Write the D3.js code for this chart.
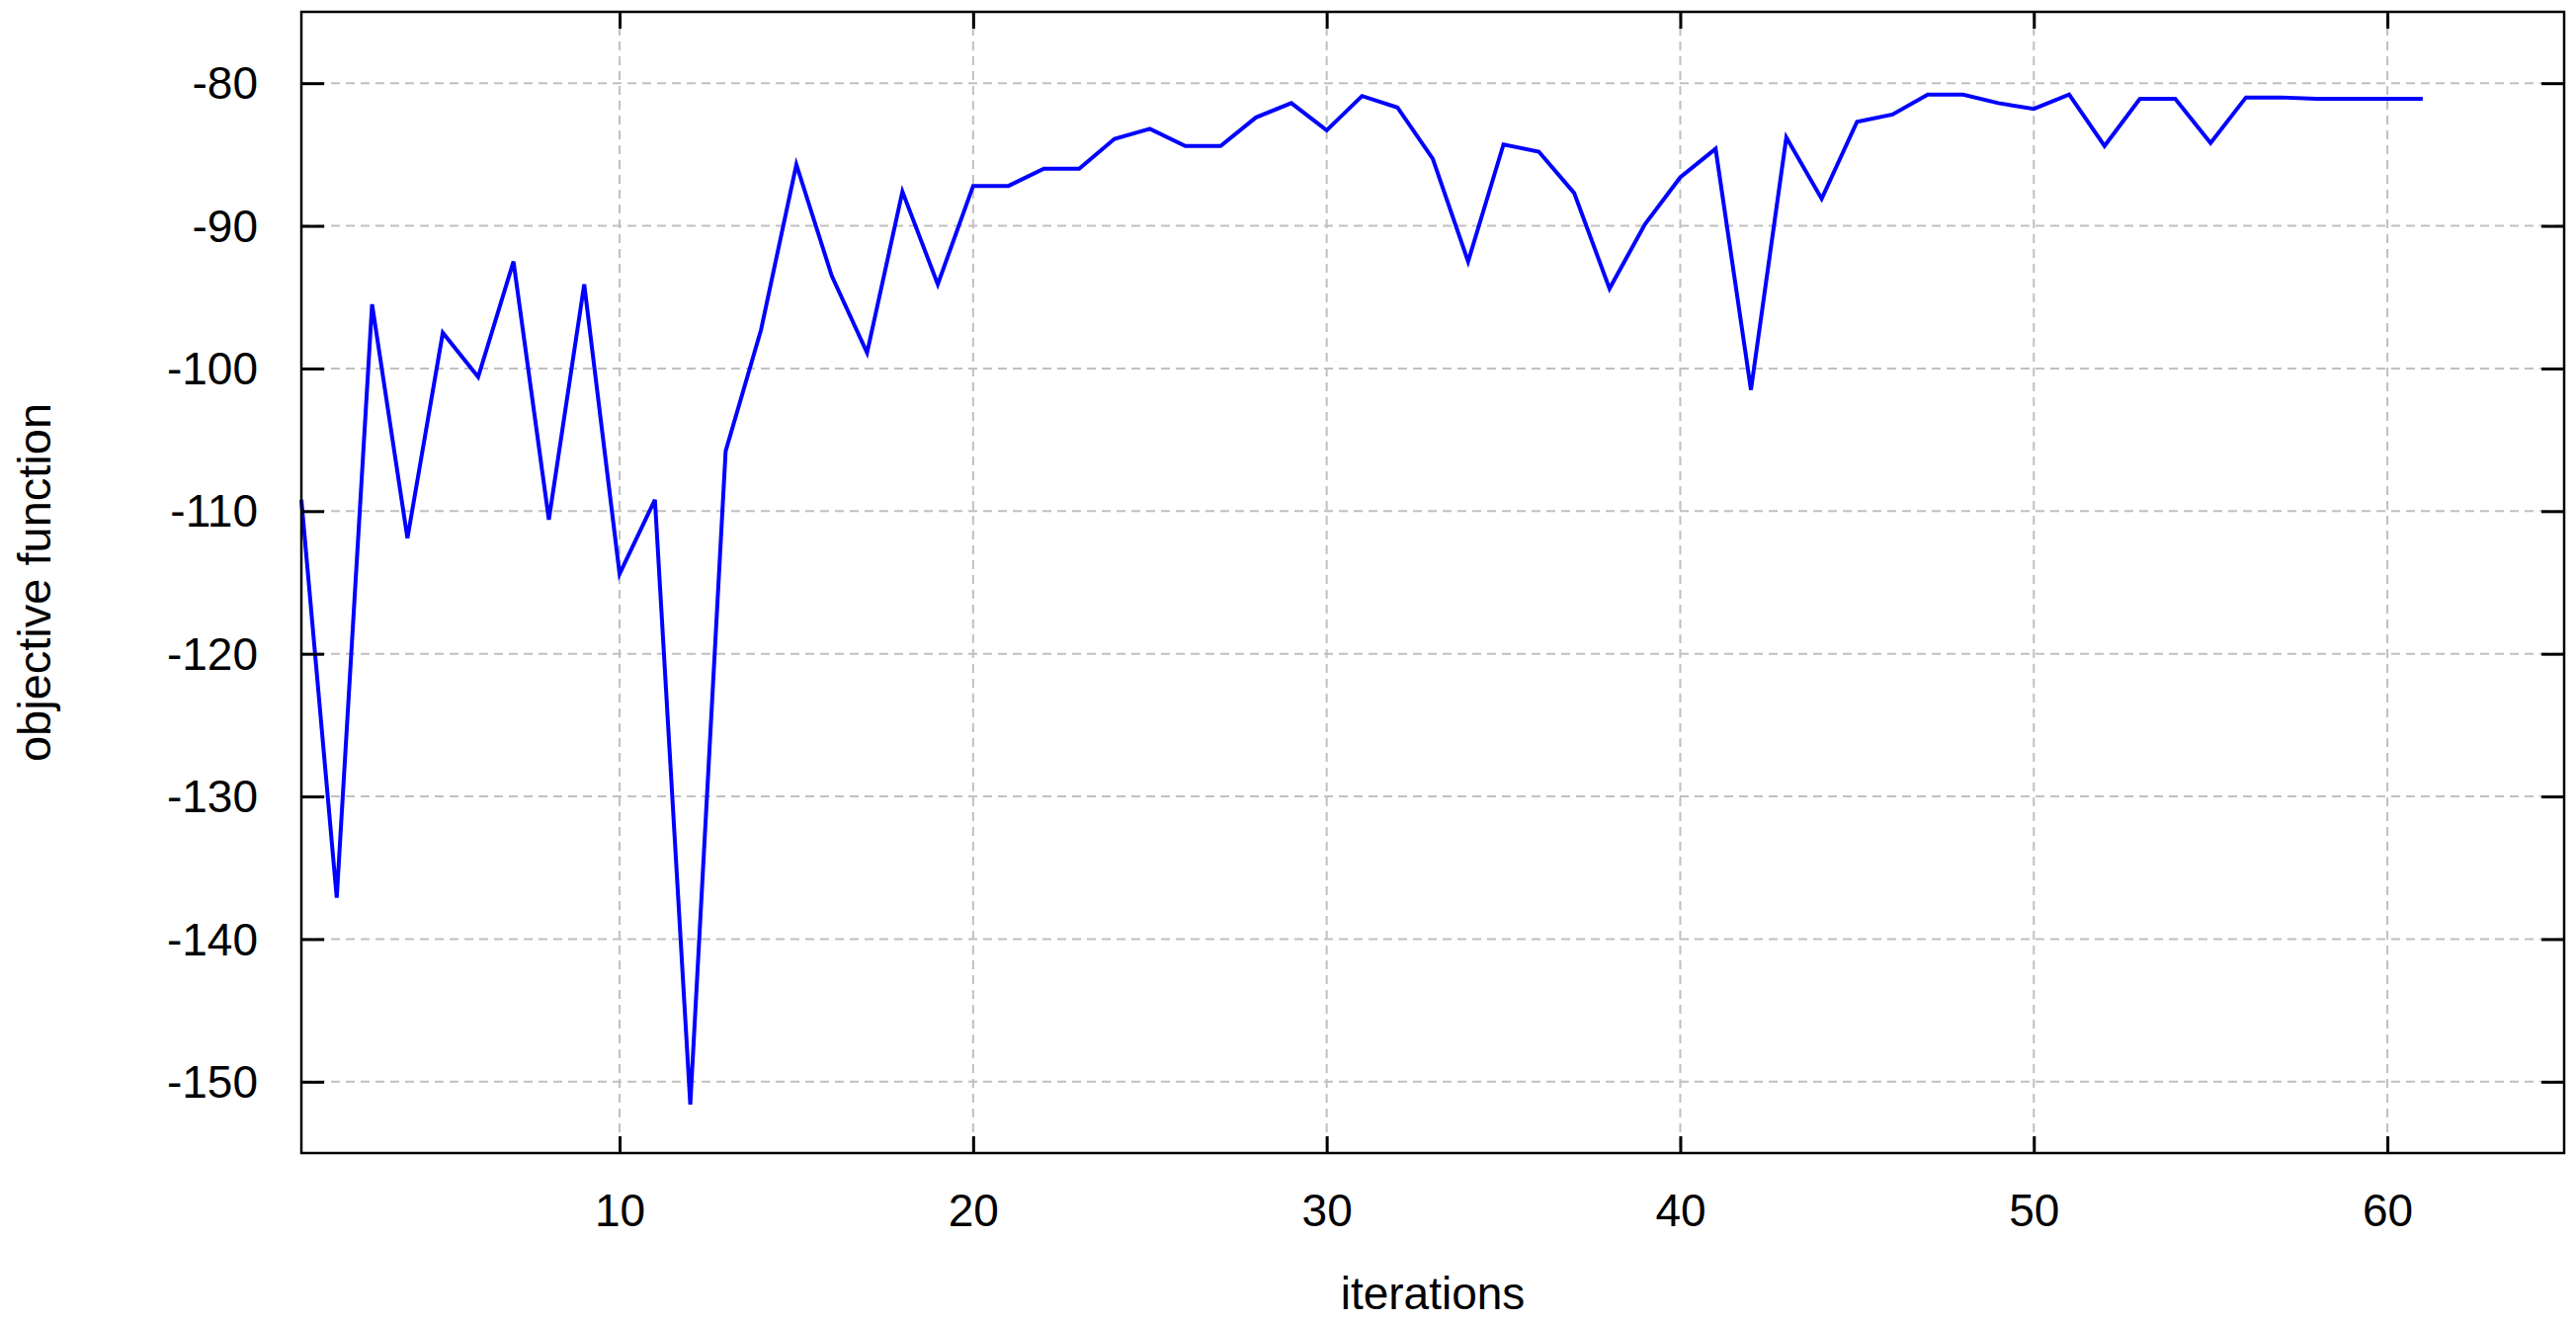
<!DOCTYPE html>
<html>
<head>
<meta charset="utf-8">
<script src="https://cdn.jsdelivr.net/npm/d3@7"></script>
<style>
  html, body { margin: 0; padding: 0; background: #fff; }
  svg { display: block; }
  text { font-family: "Liberation Sans", Arial, sans-serif; fill: #000; }
</style>
</head>
<body>
<svg id="chart" width="2607" height="1339"></svg>
<script>
// ---- data ----
const iterations = d3.range(1, 62);
const objective = [
  -109.2, -137.1, -95.5, -111.9, -97.5, -100.6, -92.5, -110.6, -94.1, -114.4,
  -109.2, -151.6, -105.8, -97.3, -85.7, -93.5, -98.9, -87.6, -94.1, -87.2,
  -87.2, -86.0, -86.0, -83.9, -83.2, -84.4, -84.4, -82.4, -81.4, -83.3,
  -80.9, -81.7, -85.3, -92.5, -84.3, -84.8, -87.7, -94.4, -89.9, -86.6,
  -84.6, -101.5, -83.8, -88.1, -82.7, -82.2, -80.8, -80.8, -81.4, -81.8,
  -80.8, -84.4, -81.1, -81.1, -84.2, -81.0, -81.0, -81.1, -81.1, -81.1,
  -81.1
];
const xTicks = [10, 20, 30, 40, 50, 60];
const yTicks = [-150, -140, -130, -120, -110, -100, -90, -80];
const xDomain = [1, 65];
const yDomain = [-155, -75];
const xTitle = "iterations";
const yTitle = "objective function";

// ---- layout ----
const W = 2607, H = 1339;
const m = { left: 305, right: 12, top: 12, bottom: 172 };
const pw = W - m.left - m.right, ph = H - m.top - m.bottom;

const svg = d3.select("#chart");
const g = svg.append("g").attr("transform", `translate(${m.left},${m.top})`);

const x = d3.scaleLinear().domain(xDomain).range([0, pw]);
const y = d3.scaleLinear().domain(yDomain).range([ph, 0]);
const fmt = d => String(d);

// grid
const grid = g.append("g").attr("stroke", "#c0c0c0").attr("stroke-width", 2)
  .attr("stroke-dasharray", "9,6").attr("fill", "none");
grid.selectAll("line.gx").data(xTicks).join("line")
  .attr("x1", d => x(d)).attr("x2", d => x(d)).attr("y1", 0).attr("y2", ph);
grid.selectAll("line.gy").data(yTicks).join("line")
  .attr("x1", 0).attr("x2", pw).attr("y1", d => y(d)).attr("y2", d => y(d));

// data line
const line = d3.line().x((d, i) => x(iterations[i])).y(d => y(d));
g.append("path").datum(objective)
  .attr("d", line).attr("fill", "none")
  .attr("stroke", "#0000ff").attr("stroke-width", 4)
  .attr("stroke-linejoin", "miter");

// axes (inward ticks, mirrored)
const fontSize = 46;
const ax = g.append("g").attr("transform", `translate(0,${ph})`)
  .call(d3.axisBottom(x).tickValues(xTicks).tickSize(-17).tickPadding(0).tickFormat(fmt));
ax.selectAll("text").attr("y", 74).attr("dy", 0).style("font-size", fontSize + "px");
const ay = g.append("g")
  .call(d3.axisLeft(y).tickValues(yTicks).tickSize(-23).tickPadding(0).tickFormat(fmt));
ay.selectAll("text").attr("x", -44).attr("dy", "0.34em").style("font-size", fontSize + "px");
const axTop = g.append("g")
  .call(d3.axisTop(x).tickValues(xTicks).tickSize(-17).tickFormat(""));
const ayRight = g.append("g").attr("transform", `translate(${pw},0)`)
  .call(d3.axisRight(y).tickValues(yTicks).tickSize(-23).tickFormat(""));

[ax, ay, axTop, ayRight].forEach(a => {
  a.select(".domain").remove();
  a.selectAll(".tick line").attr("stroke", "#000").attr("stroke-width", 3);
  a.selectAll("text").attr("fill", "#000").style("font-family", '"Liberation Sans", Arial, sans-serif');
});

// frame
g.append("rect").attr("x", 0).attr("y", 0).attr("width", pw).attr("height", ph)
  .attr("fill", "none").attr("stroke", "#000").attr("stroke-width", 2.5);

// titles
svg.append("text").attr("x", m.left + pw / 2).attr("y", 1325)
  .attr("text-anchor", "middle").style("font-size", "46px").text(xTitle);
svg.append("text")
  .attr("transform", `translate(51,${m.top + ph / 2}) rotate(-90)`)
  .attr("text-anchor", "middle").style("font-size", "47px").text(yTitle);
</script>
</body>
</html>
